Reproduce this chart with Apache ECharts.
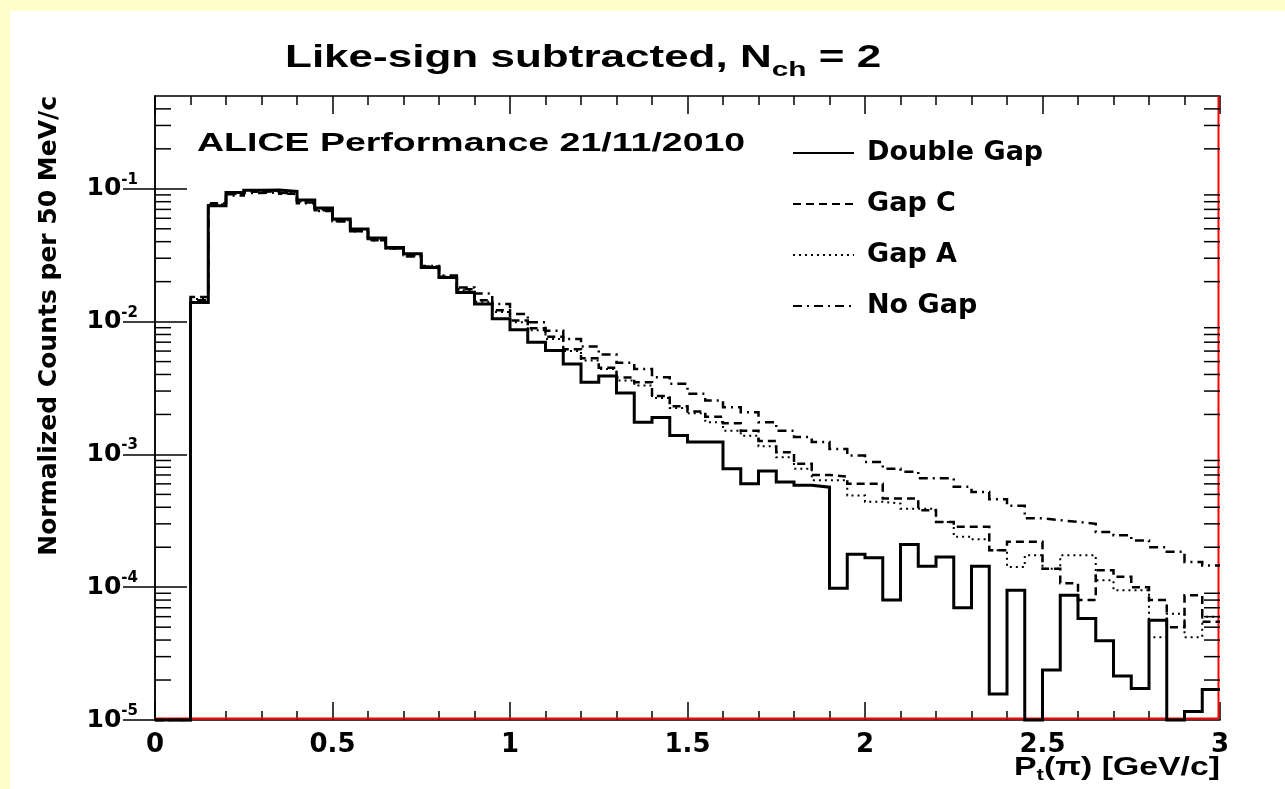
<!DOCTYPE html>
<html><head><meta charset="utf-8">
<script src="https://cdn.jsdelivr.net/npm/echarts@6/dist/echarts.min.js"></script>
<style>
html,body{margin:0;padding:0;background:#ffffcc;}
#wrap{position:relative;width:1285px;height:789px;overflow:hidden;}
#panel{position:absolute;left:10px;top:11px;width:1275px;height:778px;background:#ffffff;}
#c{position:absolute;left:0;top:0;width:1285px;height:789px;}
</style>
</head><body><div id="wrap"><div id="panel"></div><div id="c"></div></div>
<script>
// ---- data ----
const X_MIN = 0, X_MAX = 3, BIN_WIDTH = 0.05;
const Y_MIN = 1e-5, Y_MAX = 0.5;
const xTickLabels = ['0', '0.5', '1', '1.5', '2', '2.5', '3'];
const yDecades = [1e-5, 1e-4, 1e-3, 1e-2, 1e-1];
const seriesNames = ['Double Gap', 'Gap C', 'Gap A', 'No Gap'];

const doubleGap = [0, 0, 0.0139, 0.0745, 0.0937, 0.0977, 0.098, 0.0955, 0.0822, 0.0716,
  0.0592, 0.0498, 0.0426, 0.0362, 0.0325, 0.0256, 0.0215, 0.0166, 0.0136, 0.0105,
  0.0087, 0.0070, 0.00605, 0.0048, 0.0035, 0.0039, 0.0029, 0.00175, 0.0019, 0.00139,
  0.00124, 0.00124, 0.00078, 0.0006, 0.00075, 0.00062, 0.000585, 0.000567, 9.8e-5, 1.77e-4,
  1.67e-4, 8.0e-5, 2.1e-4, 1.44e-4, 1.69e-4, 7.0e-5, 1.44e-4, 1.57e-5, 9.5e-5, 0,
  2.38e-5, 8.7e-5, 5.8e-5, 3.95e-5, 2.14e-5, 1.73e-5, 5.65e-5, 0, 1.16e-5, 1.7e-5];

const gapC = [0, 0, 0.0153, 0.078, 0.091, 0.095, 0.096, 0.092, 0.079, 0.069,
  0.057, 0.048, 0.041, 0.0355, 0.031, 0.026, 0.0218, 0.0175, 0.0145, 0.0122,
  0.0102, 0.0089, 0.0077, 0.0062, 0.0053, 0.0045, 0.0038, 0.0035, 0.00275, 0.0023,
  0.0021, 0.00192, 0.00172, 0.00151, 0.00126, 0.00104, 0.00085, 0.0007, 0.00068, 0.0006,
  0.0006, 0.000465, 0.000465, 0.00038, 0.00031, 0.000285, 0.000285, 0.00019, 0.00022, 0.00022,
  0.000138, 0.000107, 0.00008, 0.000134, 0.00012, 0.0001, 0.00008, 0.00005, 0.000087, 0.000055];

const gapA = [0, 0, 0.0148, 0.0765, 0.092, 0.096, 0.0965, 0.093, 0.080, 0.070,
  0.058, 0.0485, 0.0415, 0.0358, 0.0315, 0.0258, 0.0216, 0.0172, 0.0141, 0.0118,
  0.0099, 0.0086, 0.0074, 0.006, 0.0051, 0.0044, 0.0036, 0.0033, 0.00266, 0.00224,
  0.00204, 0.00175, 0.00151, 0.00138, 0.00115, 0.00095, 0.00078, 0.00064, 0.00064, 0.00049,
  0.00044, 0.000426, 0.00039, 0.00039, 0.00031, 0.00024, 0.00023, 0.00019, 0.000142, 0.000174,
  0.000138, 0.000174, 0.000174, 0.000113, 0.000095, 0.000095, 0.000042, 0.000063, 0.000042, 0.00006];

const noGap = [0, 0, 0.0145, 0.075, 0.089, 0.093, 0.094, 0.091, 0.078, 0.068,
  0.057, 0.048, 0.041, 0.0355, 0.031, 0.0262, 0.0222, 0.0181, 0.0163, 0.0136,
  0.0114, 0.0099, 0.00855, 0.0074, 0.0065, 0.00565, 0.00489, 0.0044, 0.00381, 0.0034,
  0.00286, 0.00255, 0.00227, 0.00208, 0.00175, 0.00151, 0.00135, 0.00124, 0.0011, 0.00098,
  0.000875, 0.00078, 0.00074, 0.00066, 0.00066, 0.00057, 0.00052, 0.00046, 0.00041, 0.00033,
  0.00032, 0.00031, 0.0003, 0.00026, 0.000246, 0.000225, 0.0002, 0.000185, 0.000155, 0.000146];

// ---- helpers ----
function histPoints(vals) {
  const pts = [];
  vals.forEach((v, i) => {
    const lo = +(X_MIN + i * BIN_WIDTH).toFixed(4);
    const hi = +(X_MIN + (i + 1) * BIN_WIDTH).toFixed(4);
    const y = v > 0 ? v : Y_MIN; // empty bins sit on the frame floor
    pts.push([lo, y], [hi, y]);
  });
  return pts;
}
const yMinorTicks = [];
yDecades.forEach(d => {
  for (let k = 2; k <= 9; k++) {
    const v = k * d;
    if (v < Y_MAX) yMinorTicks.push(v);
  }
});
const FONT = 'DejaVu Sans';
const HFONT = 'Liberation Sans';

const chart = echarts.init(document.getElementById('c'), null, {renderer: 'canvas'});

const baseX = {type: 'value', min: X_MIN, max: X_MAX, interval: 0.5, splitLine: {show: false}, gridIndex: 0};
const baseY = {type: 'log', logBase: 10, min: Y_MIN, max: Y_MAX, splitLine: {show: false}, gridIndex: 0};

const styles = {
  'Double Gap': {width: 3, type: 'solid'},
  'Gap C': {width: 2.5, type: [8, 5]},
  'Gap A': {width: 2, type: [2, 4]},
  'No Gap': {width: 2.5, type: [9, 5, 2, 5]}
};
const dataMap = {'Double Gap': doubleGap, 'Gap C': gapC, 'Gap A': gapA, 'No Gap': noGap};
const drawOrder = ['No Gap', 'Gap A', 'Gap C', 'Double Gap'];

const option = {
  animation: false,
  backgroundColor: 'transparent',
  grid: {left: 155, top: 96, right: 65, bottom: 69, containLabel: false, outerBoundsMode: 'none'},
  xAxis: [
    Object.assign({}, baseX, {position: 'bottom',
      axisLine: {lineStyle: {color: '#000', width: 1.5}},
      axisTick: {inside: true, length: 18, lineStyle: {color: '#000', width: 1.5}},
      minorTick: {show: true, splitNumber: 5, length: 9, lineStyle: {color: '#000', width: 1.5}},
      axisLabel: {margin: 12, color: '#000', fontFamily: FONT, fontWeight: 'bold', fontSize: 26,
        formatter: v => xTickLabels[Math.round(v / 0.5)]}}),
    Object.assign({}, baseX, {position: 'top',
      axisLine: {lineStyle: {color: '#000', width: 1.5}},
      axisTick: {inside: true, length: 18, lineStyle: {color: '#000', width: 1.5}},
      minorTick: {show: true, splitNumber: 5, length: 9, lineStyle: {color: '#000', width: 1.5}},
      axisLabel: {show: false}})
  ],
  yAxis: [
    Object.assign({}, baseY, {position: 'left',
      axisLine: {lineStyle: {color: '#000', width: 1.5}},
      axisTick: {inside: true, length: 32, customValues: yDecades, lineStyle: {color: '#000', width: 1.5}},
      axisLabel: {margin: 17, color: '#000', customValues: yDecades,
        formatter: v => '{b|10}{s|' + Math.round(Math.log10(v)) + '}',
        rich: {b: {fontFamily: FONT, fontWeight: 'bold', fontSize: 25, color: '#000'},
               s: {fontFamily: FONT, fontWeight: 'bold', fontSize: 15, color: '#000', padding: [0, 0, 18, 0]}}},
      name: 'Normalized Counts per 50 MeV/c', nameLocation: 'end', nameGap: 0, nameRotate: 90,
      nameTextStyle: {align: 'right', verticalAlign: 'bottom', padding: [0, 0, 93, 0],
        fontFamily: FONT, fontWeight: 'bold', fontSize: 25, color: '#000'}}),
    Object.assign({}, baseY, {position: 'right',
      axisLine: {lineStyle: {color: '#000', width: 1.5}},
      axisTick: {inside: true, length: 32, customValues: yDecades, lineStyle: {color: '#000', width: 1.5}},
      axisLabel: {show: false}})
  ],
  legend: {
    orient: 'vertical', left: 787, top: 133, itemWidth: 61, itemHeight: 14, itemGap: 21,
    selectedMode: false, data: seriesNames,
    itemStyle: {opacity: 0, color: 'rgba(0,0,0,0)', borderWidth: 0},
    textStyle: {fontFamily: FONT, fontWeight: 'bold', fontSize: 27, color: '#000', lineHeight: 30, padding: [0, 0, 0, 8]}
  },
  graphic: [
    {type: 'text', x: 285, y: 58, scaleX: 1.42, silent: true,
      style: {text: '{a|Like-sign subtracted, N}{s|ch}{a| = 2}', align: 'left', verticalAlign: 'middle',
        rich: {a: {fontFamily: HFONT, fontWeight: 'bold', fontSize: 31, fill: '#000'},
               s: {fontFamily: HFONT, fontWeight: 'bold', fontSize: 21, fill: '#000', padding: [24, 0, 0, 0]}}}},
    {type: 'text', x: 197, y: 144, scaleX: 1.5, silent: true,
      style: {text: 'ALICE Performance 21/11/2010', align: 'left', verticalAlign: 'middle',
        fontFamily: HFONT, fontWeight: 'bold', fontSize: 25, fill: '#000'}},
    {type: 'text', x: 1220, y: 768, scaleX: 1.3, silent: true,
      style: {text: '{a|P}{s|t}{a|(π) [GeV/c]}', align: 'right', verticalAlign: 'middle',
        rich: {a: {fontFamily: HFONT, fontWeight: 'bold', fontSize: 26, fill: '#000'},
               s: {fontFamily: HFONT, fontWeight: 'bold', fontSize: 17, fill: '#000', padding: [14, 0, 0, 0]}}}}
  ],
  series: drawOrder.map(name => ({
    name: name, type: 'line', xAxisIndex: 0, yAxisIndex: 0,
    data: histPoints(dataMap[name]), symbol: 'none', showSymbol: false, clip: false,
    lineStyle: {color: '#000', width: styles[name].width, type: styles[name].type, join: 'miter', cap: 'butt'},
    itemStyle: {color: 'rgba(0,0,0,0)', borderWidth: 0}, z: 3
  })).concat([{
    // y-axis minor ticks (2..9 x 10^n) on left and right frame edges
    type: 'custom', name: 'yMinor', xAxisIndex: 0, yAxisIndex: 0, silent: true, clip: false, z: 4,
    data: yMinorTicks.map(v => [X_MIN, v]),
    renderItem: function (params, api) {
      const v = api.value(1);
      const pl = api.coord([X_MIN, v]);
      const pr = api.coord([X_MAX, v]);
      return {type: 'group', children: [
        {type: 'line', shape: {x1: pl[0], y1: pl[1], x2: pl[0] + 16, y2: pl[1]}, style: {stroke: '#000', lineWidth: 1.5}},
        {type: 'line', shape: {x1: pr[0] - 16, y1: pr[1], x2: pr[0], y2: pr[1]}, style: {stroke: '#000', lineWidth: 1.5}}
      ]};
    }
  }, {
    // red inner edge along bottom and right of the frame
    type: 'custom', name: 'frameEdge', xAxisIndex: 0, yAxisIndex: 0, silent: true, clip: false, z: 2,
    data: [[X_MAX, Y_MIN]],
    renderItem: function (params, api) {
      const p0 = api.coord([X_MIN, Y_MIN]);
      const p1 = api.coord([X_MAX, Y_MIN]);
      const p2 = api.coord([X_MAX, Y_MAX]);
      return {type: 'group', children: [
        {type: 'line', shape: {x1: p0[0], y1: p0[1] - 1.5, x2: p1[0] - 1.5, y2: p1[1] - 1.5}, style: {stroke: '#ff0000', lineWidth: 2}},
        {type: 'line', shape: {x1: p1[0] - 1.5, y1: p1[1] - 1.5, x2: p2[0] - 1.5, y2: p2[1]}, style: {stroke: '#ff0000', lineWidth: 2}}
      ]};
    }
  }])
};
chart.setOption(option);
</script>
</body></html>
